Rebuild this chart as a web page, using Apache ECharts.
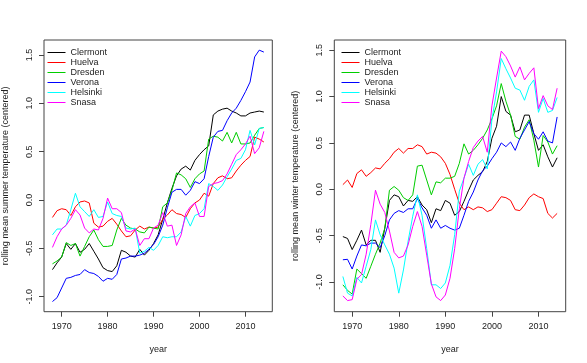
<!DOCTYPE html>
<html>
<head>
<meta charset="utf-8">
<script src="https://cdn.jsdelivr.net/npm/echarts@6/dist/echarts.min.js"></script>
<style>
  html, body { margin: 0; padding: 0; background: #fff; }
  #chart { width: 587px; height: 363px; }
</style>
</head>
<body>
<div id="chart"></div>
<script>
// years 1968..2014
const years = [];
for (let y = 1968; y <= 2014; y++) years.push(y);

const cities = ['Clermont', 'Huelva', 'Dresden', 'Verona', 'Helsinki', 'Snasa'];
const colors = ['#000000', '#FF0000', '#00CD00', '#0000FF', '#00FFFF', '#FF00FF'];
const xTicks = [1970, 1980, 1990, 2000, 2010];
const yTicks = [-1.0, -0.5, 0.0, 0.5, 1.0, 1.5];

// summer (left panel)
const summerClermont = [-0.72, -0.65, -0.59, -0.45, -0.51, -0.45, -0.54, -0.51, -0.45, -0.53, -0.61, -0.70, -0.73, -0.74, -0.68, -0.52, -0.54, -0.58, -0.59, -0.51, -0.57, -0.52, -0.45, -0.36, -0.20, -0.03, 0.12, 0.25, 0.32, 0.35, 0.31, 0.41, 0.47, 0.52, 0.56, 0.88, 0.92, 0.94, 0.95, 0.92, 0.90, 0.87, 0.87, 0.90, 0.91, 0.92, 0.91];
const summerHuelva = [-0.18, -0.11, -0.09, -0.10, -0.16, -0.07, -0.02, -0.01, -0.03, -0.24, -0.28, -0.27, -0.22, -0.19, -0.25, -0.32, -0.38, -0.37, -0.31, -0.27, -0.30, -0.28, -0.29, -0.28, -0.20, -0.155, -0.10, -0.14, -0.15, -0.18, -0.09, -0.03, 0.00, 0.07, 0.04, 0.17, 0.23, 0.25, 0.22, 0.23, 0.30, 0.36, 0.41, 0.45, 0.65, 0.63, 0.60];
const summerDresden = [-0.66, -0.63, -0.59, -0.44, -0.47, -0.45, -0.58, -0.48, -0.38, -0.31, -0.41, -0.48, -0.48, -0.47, -0.31, -0.19, -0.26, -0.29, -0.30, -0.33, -0.34, -0.28, -0.29, -0.30, -0.07, -0.03, 0.10, 0.28, 0.26, 0.22, 0.13, 0.22, 0.27, 0.30, 0.63, 0.66, 0.65, 0.61, 0.70, 0.59, 0.70, 0.58, 0.58, 0.59, 0.67, 0.74, 0.75];
const summerVerona = [-1.05, -1.01, -0.91, -0.81, -0.80, -0.78, -0.77, -0.72, -0.75, -0.76, -0.79, -0.84, -0.81, -0.82, -0.77, -0.61, -0.60, -0.58, -0.58, -0.57, -0.55, -0.51, -0.46, -0.38, -0.26, -0.08, 0.08, 0.11, 0.11, 0.05, 0.10, 0.19, 0.17, 0.22, 0.45, 0.65, 0.71, 0.72, 0.82, 0.90, 0.95, 1.03, 1.12, 1.22, 1.48, 1.55, 1.53];
const summerHelsinki = [-0.36, -0.30, -0.30, -0.26, -0.10, 0.07, -0.07, -0.12, -0.17, -0.10, -0.18, -0.17, -0.02, -0.14, -0.16, -0.17, -0.29, -0.30, -0.29, -0.55, -0.53, -0.49, -0.52, -0.47, -0.38, -0.39, -0.38, -0.38, -0.33, -0.17, -0.27, -0.16, -0.14, -0.09, 0.17, 0.14, 0.10, 0.155, 0.24, 0.32, 0.41, 0.43, 0.52, 0.72, 0.57, 0.74, 0.75];
const summerSnasa = [-0.49, -0.38, -0.30, -0.26, -0.19, -0.10, -0.155, -0.29, -0.34, -0.30, -0.31, -0.19, 0.02, -0.09, -0.09, -0.13, -0.32, -0.33, -0.30, -0.47, -0.40, -0.40, -0.29, -0.26, -0.13, -0.27, -0.26, -0.47, -0.36, -0.14, -0.07, -0.03, -0.17, -0.17, 0.14, 0.17, 0.18, 0.20, 0.27, 0.37, 0.47, 0.52, 0.58, 0.66, 0.48, 0.54, 0.71];

// winter (right panel)
const winterClermont = [-0.51, -0.53, -0.65, -0.55, -0.44, -0.60, -0.55, -0.55, -0.68, -0.42, -0.12, -0.06, -0.08, -0.18, -0.12, -0.13, -0.08, -0.17, -0.22, -0.36, -0.21, -0.23, -0.12, -0.15, -0.28, -0.24, -0.13, -0.01, 0.10, 0.15, 0.19, 0.30, 0.55, 0.68, 1.00, 0.84, 0.80, 0.62, 0.64, 0.80, 0.80, 0.60, 0.42, 0.48, 0.35, 0.24, 0.34];
const winterHuelva = [0.05, 0.10, 0.02, 0.17, 0.21, 0.14, 0.18, 0.23, 0.22, 0.28, 0.33, 0.40, 0.44, 0.39, 0.44, 0.44, 0.48, 0.46, 0.38, 0.40, 0.39, 0.35, 0.28, 0.16, 0.00, -0.15, -0.22, -0.19, -0.22, -0.19, -0.20, -0.24, -0.22, -0.15, -0.08, -0.09, -0.12, -0.22, -0.23, -0.17, -0.09, -0.05, -0.08, -0.10, -0.26, -0.31, -0.26];
const winterDresden = [-1.03, -1.09, -1.13, -0.86, -0.91, -0.96, -0.83, -0.70, -0.58, -0.42, -0.01, 0.03, -0.01, -0.09, -0.12, -0.06, 0.25, 0.26, 0.10, -0.06, 0.08, 0.07, 0.12, 0.12, 0.14, 0.28, 0.49, 0.38, 0.42, 0.48, 0.55, 0.64, 0.76, 0.90, 1.14, 0.95, 0.80, 0.57, 0.54, 0.67, 0.75, 0.53, 0.24, 0.58, 0.51, 0.38, 0.47];
const winterVerona = [-0.76, -0.755, -0.86, -0.72, -0.60, -0.61, -0.58, -0.58, -0.63, -0.50, -0.33, -0.26, -0.23, -0.25, -0.21, -0.21, -0.10, -0.20, -0.28, -0.42, -0.33, -0.42, -0.39, -0.42, -0.44, -0.42, -0.28, -0.13, -0.03, 0.10, 0.20, 0.25, 0.33, 0.40, 0.50, 0.46, 0.51, 0.42, 0.55, 0.64, 0.73, 0.60, 0.54, 0.62, 0.52, 0.50, 0.78];
const winterHelsinki = [-0.94, -1.12, -1.15, -0.95, -1.01, -0.83, -0.65, -0.33, -0.49, -0.60, -0.70, -0.85, -1.12, -0.87, -0.56, -0.29, -0.06, -0.28, -0.64, -1.03, -1.03, -1.07, -1.01, -0.82, -0.49, -0.02, 0.12, 0.27, 0.15, 0.27, 0.32, 0.22, 0.75, 1.05, 1.41, 1.30, 1.20, 1.09, 1.07, 0.96, 1.11, 1.18, 0.83, 0.98, 0.83, 0.85, 0.99];
const winterSnasa = [-1.15, -1.20, -1.19, -0.97, -0.92, -0.70, -0.38, -0.01, -0.16, -0.25, -0.45, -0.68, -0.74, -0.72, -0.60, -0.40, -0.24, -0.40, -0.71, -1.02, -1.16, -1.20, -1.14, -0.96, -0.64, -0.21, 0.12, 0.30, 0.45, 0.52, 0.57, 0.40, 0.90, 1.20, 1.49, 1.43, 1.33, 1.21, 1.32, 1.18, 1.25, 1.31, 0.87, 1.01, 0.90, 0.86, 1.09];

const summer = [summerClermont, summerHuelva, summerDresden, summerVerona, summerHelsinki, summerSnasa];
const winter = [winterClermont, winterHuelva, winterDresden, winterVerona, winterHelsinki, winterSnasa];

const textColor = '#222';
const font = 'Liberation Sans, Arial, sans-serif';

function xAxisConf(gridIndex) {
    return {
        type: 'value', gridIndex: gridIndex,
        min: 1966.16, max: 2015.84,
        name: 'year', nameLocation: 'middle', nameGap: 33,
        nameTextStyle: { color: textColor, fontSize: 9, fontFamily: font },
        axisLine: { show: false, onZero: false },
        splitLine: { show: false },
        axisTick: { show: true, inside: false, length: 5, lineStyle: { color: '#444' }, customValues: xTicks },
        axisLabel: { color: textColor, fontSize: 9, fontFamily: font, margin: 10, customValues: xTicks,
            formatter: v => String(v) }
    };
}

function yAxisConf(gridIndex, min, max, name) {
    return {
        type: 'value', gridIndex: gridIndex,
        min: min, max: max,
        name: name, nameLocation: 'middle', nameGap: 34, nameRotate: 90,
        nameTextStyle: { color: textColor, fontSize: 9, fontFamily: font },
        axisLine: { show: false, onZero: false },
        splitLine: { show: false },
        axisTick: { show: true, inside: false, length: 5, lineStyle: { color: '#444' }, customValues: yTicks },
        axisLabel: { color: textColor, fontSize: 9, fontFamily: font, rotate: 90, margin: 10, customValues: yTicks,
            formatter: v => v.toFixed(1) }
    };
}

function buildSeries(sets, idx) {
    return sets.map((vals, i) => ({
        name: cities[i],
        type: 'line',
        xAxisIndex: idx, yAxisIndex: idx,
        data: years.map((y, k) => [y, vals[k]]),
        symbol: 'none',
        lineStyle: { width: 1, color: colors[i] },
        itemStyle: { color: colors[i] },
        silent: true
    }));
}

function legendConf(left) {
    return {
        data: cities, orient: 'vertical', left: left, top: 43,
        itemWidth: 18, itemHeight: 10, itemGap: 1,
        itemStyle: { opacity: 0 },
        lineStyle: { width: 1 },
        textStyle: { color: textColor, fontSize: 9, fontFamily: font },
        selectedMode: false
    };
}

const chart = echarts.init(document.getElementById('chart'), null, { renderer: 'canvas' });
chart.setOption({
    animation: false,
    backgroundColor: '#fff',
    grid: [
        { left: 41, right: 314.7, top: 40, bottom: 51.3, show: true, borderColor: '#444', borderWidth: 1 },
        { left: 334.3, right: 21.3, top: 40, bottom: 51.3, show: true, borderColor: '#444', borderWidth: 1 }
    ],
    xAxis: [xAxisConf(0), xAxisConf(1)],
    yAxis: [
        yAxisConf(0, -1.155, 1.655, 'rolling mean summer temperature (centered)'),
        yAxisConf(1, -1.32, 1.61, 'rolling mean winter temperature (centered)')
    ],
    legend: [legendConf(42), legendConf(336)],
    series: buildSeries(summer, 0).concat(buildSeries(winter, 1))
});
</script>
</body>
</html>
